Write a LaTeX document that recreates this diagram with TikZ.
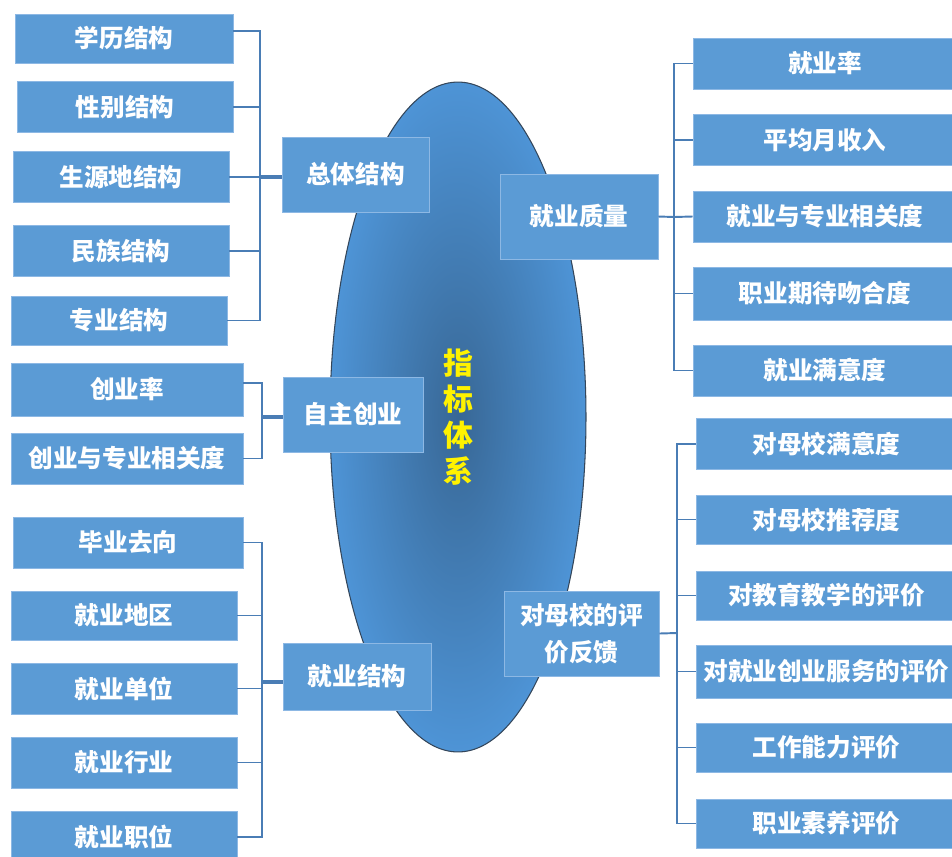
\documentclass[tikz,border=0pt]{standalone}
\usepackage{fontspec}
\setmainfont{Noto Sans CJK SC}
\usetikzlibrary{shapes.geometric,positioning,calc}
\definecolor{boxblue}{HTML}{5B9BD5}
\definecolor{boxedge}{HTML}{8DB8E4}
\definecolor{linkblue}{HTML}{4A7DB5}
\definecolor{coreblue}{HTML}{4E94D6}
\definecolor{coredark}{HTML}{386795}
\definecolor{coreline}{HTML}{34465A}

\begin{document}
\begin{tikzpicture}[x=0.02cm, y=-0.02cm]
	\tikzstyle{leaf}=[rectangle,fill=boxblue,draw=boxedge,line width=0.5pt,text=white,font=\fontsize{14}{16}\selectfont\bfseries,minimum height=1.02cm,inner sep=0pt]
	\tikzstyle{link}=[draw=linkblue,line width=1.1pt]
	\tikzstyle{stub}=[draw=linkblue,line width=2.6pt]
	\useasboundingbox (0,0) rectangle (952,856);

	% core
	\node[ellipse,draw=coreline,line width=0.6pt,inner color=coredark,outer color=coreblue,minimum width=5.12cm,minimum height=13.4cm] (core) at (458,417) {};
	\node[text=yellow,font=\fontsize{17}{20.5}\selectfont\bfseries,align=center] (title) at (core) {指\\标\\体\\系};

	% left: overall structure
	\node[leaf,minimum width=4.36cm,minimum height=0.98cm] (xl) at (124,38.5) {学历结构};
	\node[leaf,minimum width=4.32cm] (xb) at (125,107) {性别结构};
	\node[leaf,minimum width=4.32cm] (sd) at (121,177) {生源地结构};
	\node[leaf,minimum width=4.32cm] (mz) at (121,251) {民族结构};
	\node[leaf,minimum width=4.32cm,minimum height=0.98cm] (zy) at (119,320.5) {专业结构};
	\node[leaf,minimum width=2.94cm,minimum height=1.5cm] (zt) at (355.5,174.5) {总体结构};
	\coordinate (ztj) at (260,177);
	\draw[link] ([yshift=0.15cm]xl.east) -| (ztj);
	\draw[link] (xb.east) -| (ztj);
	\draw[link] (sd.east) -- (ztj);
	\draw[link] (mz.east) -| (ztj);
	\draw[link] (zy.east) -| (ztj);
	\draw[stub] (ztj) -- (ztj -| zt.west);

	% left: self-employment
	\node[leaf,minimum width=4.64cm,minimum height=1.06cm] (cy) at (127,389.5) {创业率};
	\node[leaf,minimum width=4.64cm] (cg) at (127,458.5) {创业与专业相关度};
	\node[leaf,minimum width=2.8cm,minimum height=1.5cm] (zz) at (353,414.5) {自主创业};
	\coordinate (zzj) at (262,417);
	\draw[link] ([yshift=0.13cm]cy.east) -| (zzj);
	\draw[link] (cg.east) -| (zzj);
	\draw[stub] (zzj) -- (zzj -| zz.west);

	% left: employment structure
	\node[leaf,minimum width=4.6cm] (bq) at (128,542.5) {毕业去向};
	\node[leaf,minimum width=4.52cm,minimum height=0.98cm] (dq) at (124,615.5) {就业地区};
	\node[leaf,minimum width=4.52cm] (dw) at (124,688.5) {就业单位};
	\node[leaf,minimum width=4.52cm] (hy) at (124,762.5) {就业行业};
	\node[leaf,minimum width=4.52cm] (zw) at (124,837) {就业职位};
	\node[leaf,minimum width=2.96cm,minimum height=1.34cm] (jg) at (357,676.5) {就业结构};
	\coordinate (jgj) at (262,682);
	\draw[link] (bq.east) -| (jgj);
	\draw[link] (dq.east) -| (jgj);
	\draw[link] (dw.east) -| (jgj);
	\draw[link] (hy.east) -| (jgj);
	\draw[link] (zw.east) -| (jgj);
	\draw[stub] (jgj) -- (jgj -| jg.west);

	% right: employment quality
	\node[leaf,minimum width=3.16cm,minimum height=1.7cm] (zl) at (579,216.5) {就业质量};
	\node[leaf,minimum width=5.28cm] (jl) at (825,63.5) {就业率};
	\node[leaf,minimum width=5.28cm] (sr) at (825,140) {平均月收入};
	\node[leaf,minimum width=5.28cm] (xg) at (825,216.5) {就业与专业相关度};
	\node[leaf,minimum width=5.28cm,minimum height=1.06cm] (wh) at (825,293.5) {职业期待吻合度};
	\node[leaf,minimum width=5.28cm] (my) at (825,370.5) {就业满意度};
	\coordinate (zlj) at (674,217);
	\draw[link] (zl.east) -- (zlj);
	\draw[link] (zlj) |- (jl.west);
	\draw[link] (zlj) |- (sr.west);
	\draw[link] (zlj) -- (xg.west);
	\draw[link] (zlj) |- (wh.west);
	\draw[link] (zlj) |- (my.west);

	% right: feedback
	\node[leaf,minimum width=3.1cm,minimum height=1.7cm,align=center,font=\fontsize{14}{21.5}\selectfont\bfseries] (pj) at (581.5,633.5) {对母校的评\\价反馈};
	\node[leaf,minimum width=5.22cm] (mx) at (826.5,444) {对母校满意度};
	\node[leaf,minimum width=5.22cm,minimum height=0.98cm] (tj) at (826.5,519.5) {对母校推荐度};
	\node[leaf,minimum width=5.22cm,minimum height=0.98cm] (jx) at (826.5,595.5) {对教育教学的评价};
	\node[leaf,minimum width=5.22cm,minimum height=1.06cm] (fw) at (826.5,671.5) {对就业创业服务的评价};
	\node[leaf,minimum width=5.22cm,minimum height=0.98cm] (nl) at (826.5,747.5) {工作能力评价};
	\node[leaf,minimum width=5.22cm,minimum height=0.98cm] (sy) at (826.5,823.5) {职业素养评价};
	\coordinate (pjj) at (677,633);
	\draw[link] (pj.east) -- (pjj);
	\draw[link] (pjj) |- (mx.west);
	\draw[link] (pjj) |- (tj.west);
	\draw[link] (pjj) |- (jx.west);
	\draw[link] (pjj) |- (fw.west);
	\draw[link] (pjj) |- (nl.west);
	\draw[link] (pjj) |- (sy.west);
\end{tikzpicture}
\end{document}
